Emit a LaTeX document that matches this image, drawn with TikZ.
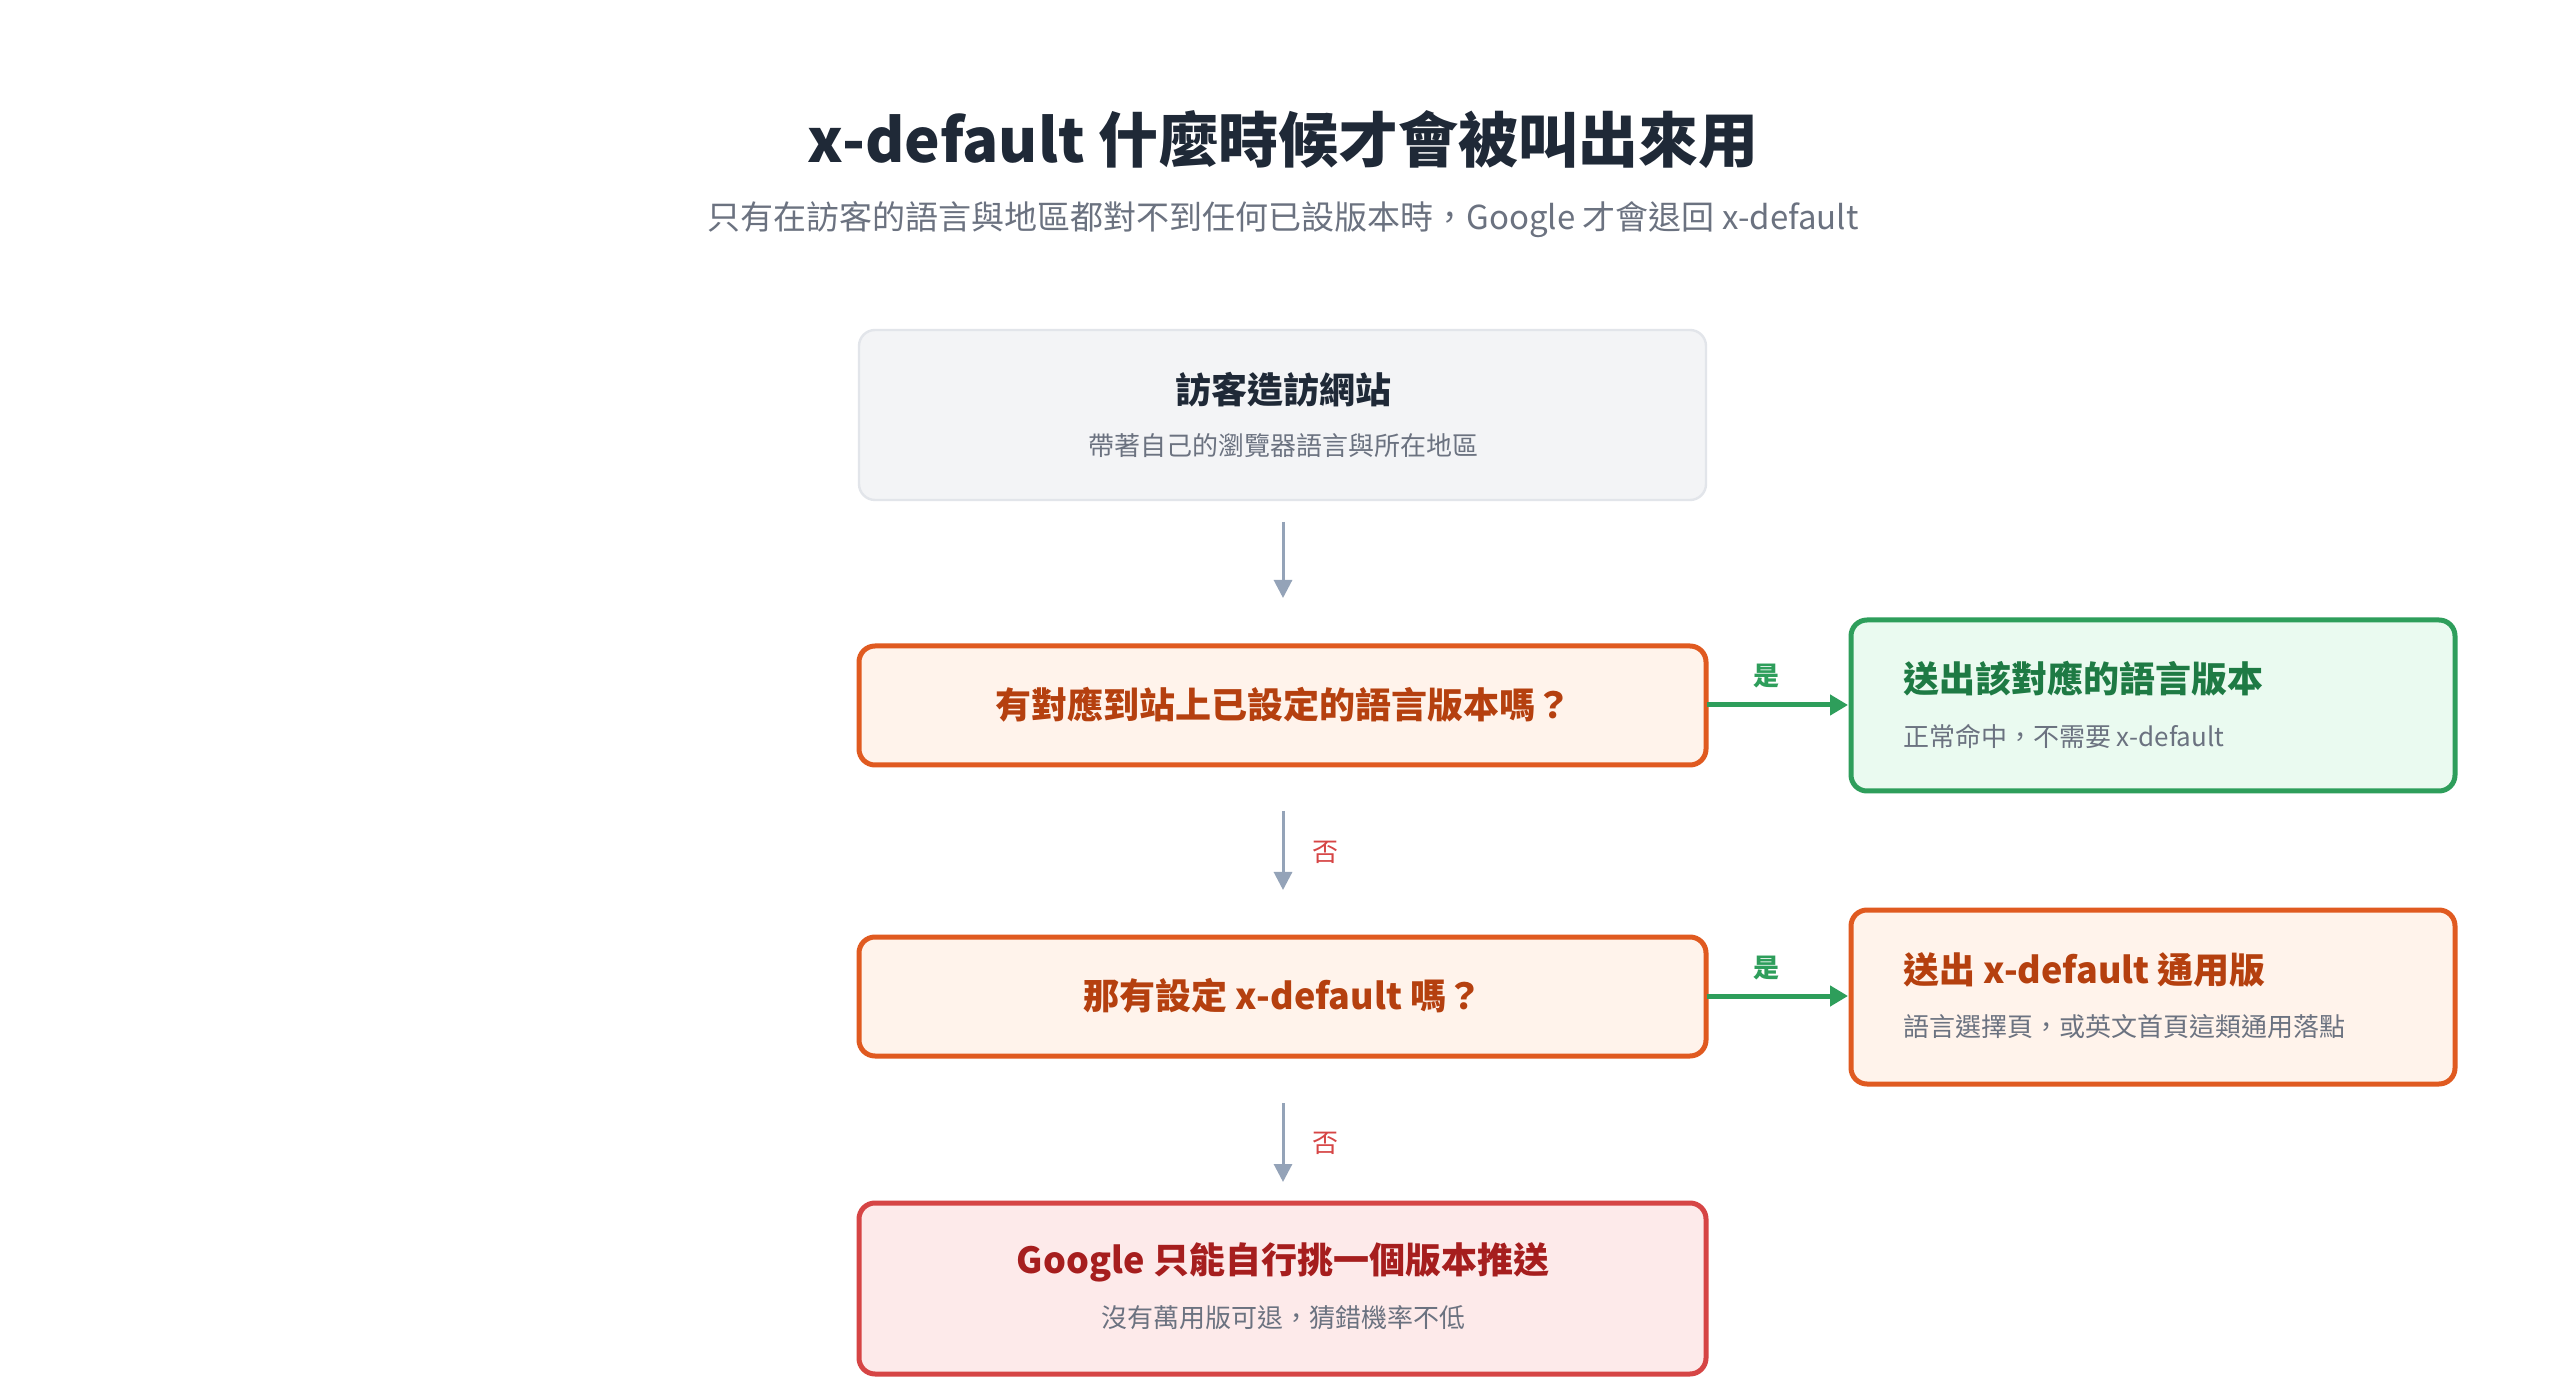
\documentclass[tikz,border=0pt]{standalone}
\usepackage{fontspec}
\setmainfont{Noto Sans CJK TC}
\usetikzlibrary{arrows.meta}
\definecolor{tdark}{HTML}{1F2937}
\definecolor{tgray}{HTML}{6B7280}
\definecolor{ogray}{HTML}{F3F4F6}
\definecolor{obord}{HTML}{E2E5EA}
\definecolor{orb}{HTML}{E05A20}
\definecolor{orf}{HTML}{FFF3EB}
\definecolor{ort}{HTML}{B5400F}
\definecolor{grb}{HTML}{2E9E5B}
\definecolor{grf}{HTML}{EAFAF0}
\definecolor{grt}{HTML}{1E7A44}
\definecolor{rdb}{HTML}{D64545}
\definecolor{rdf}{HTML}{FDEAEA}
\definecolor{rdt}{HTML}{A61E1E}
\definecolor{arr}{HTML}{94A3B8}
\begin{document}
\begin{tikzpicture}[x=0.5pt,y=-0.5pt,
 box/.style={rounded corners=8pt,line width=2.5pt},
 ttl/.style={font=\fontsize{18}{22}\selectfont\bfseries},
 sub/.style={font=\fontsize{13}{16}\selectfont,text=tgray},
 garr/.style={draw=arr,line width=1.5pt,-{Triangle[width=9pt,length=9pt]}},
 yarr/.style={draw=grb,line width=2.5pt,-{Triangle[width=10pt,length=9pt]}},
 lab/.style={font=\fontsize{13}{16}\selectfont}]
\useasboundingbox[fill=white] (0,0) rectangle (2560,1384);
\node[text=tdark,font=\fontsize{30}{36}\selectfont\bfseries] (title) at (1283,140) {x-default 什麼時候才會被叫出來用};
\node[text=tgray,font=\fontsize{16.5}{20}\selectfont] (subtitle) at (1283,220) {只有在訪客的語言與地區都對不到任何已設版本時，Google 才會退回 x-default};
% boxes
\draw[rounded corners=8pt,line width=1.2pt,draw=obord,fill=ogray] (859,330) rectangle (1706,500);
\node[ttl,text=tdark] (b1t) at (1283,390) {訪客造訪網站};
\node[sub] (b1s) at (1283,446) {帶著自己的瀏覽器語言與所在地區};
\coordinate (b1) at (1283,500);
\draw[box,draw=orb,fill=orf] (859,646) rectangle (1706,765);
\node[ttl,text=ort] (b2) at (1283,705) {有對應到站上已設定的語言版本嗎？};
\draw[box,draw=orb,fill=orf] (859,937) rectangle (1706,1056);
\node[ttl,text=ort] (b3) at (1283,996) {那有設定 x-default 嗎？};
\draw[box,draw=rdb,fill=rdf] (859,1203) rectangle (1706,1374);
\node[ttl,text=rdt] (b4t) at (1283,1262) {Google 只能自行挑一個版本推送};
\node[sub] (b4s) at (1283,1318) {沒有萬用版可退，猜錯機率不低};
\draw[box,draw=grb,fill=grf] (1851,620) rectangle (2455,791);
\node[ttl,text=grt,anchor=west] (g1) at (1896,679) {送出該對應的語言版本};
\node[sub,anchor=west] (g2) at (1896,736) {正常命中，不需要 x-default};
\draw[box,draw=orb,fill=orf] (1851,910) rectangle (2455,1084);
\node[ttl,text=ort,anchor=west] (o1) at (1896,970) {送出 x-default 通用版};
\node[sub,anchor=west] (o2) at (1896,1027) {語言選擇頁，或英文首頁這類通用落點};
% connectors
\coordinate (a1s) at (1283,522); \coordinate (a1e) at (1283,598);
\draw[garr] (a1s) -- (a1e);
\coordinate (a2s) at (1283,811); \coordinate (a2e) at (1283,890);
\draw[garr] (a2s) -- (a2e);
\coordinate (a3s) at (1283,1103); \coordinate (a3e) at (1283,1182);
\draw[garr] (a3s) -- (a3e);
\node[lab,text=rdb] (n1) at (1325,852) {否};
\node[lab,text=rdb] (n2) at (1325,1143) {否};
\coordinate (h1s) at (1707,705); \coordinate (h1e) at (1848,705);
\draw[yarr] (h1s) -- (h1e);
\coordinate (h2s) at (1707,996); \coordinate (h2e) at (1848,996);
\draw[yarr] (h2s) -- (h2e);
\node[lab,text=grb,font=\fontsize{13}{16}\selectfont\bfseries] (y1) at (1766,676) {是};
\node[lab,text=grb,font=\fontsize{13}{16}\selectfont\bfseries] (y2) at (1766,968) {是};
\end{tikzpicture}
\end{document}
